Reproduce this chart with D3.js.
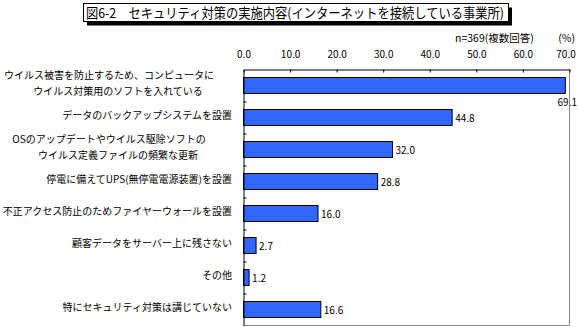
<!DOCTYPE html>
<html><head><meta charset="utf-8">
<script src="https://cdn.jsdelivr.net/npm/d3@7"></script>
<style>body{margin:0;background:#fff}svg{display:block}</style>
</head><body>
<svg id="c" width="578" height="327"></svg>
<script>
const title = "図6-2　セキュリティ対策の実施内容(インターネットを接続している事業所)";
const note = "n=369(複数回答)";
const unit = "(%)";
const categories = [
  ["ウイルス被害を防止するため、コンピュータに", "ウイルス対策用のソフトを入れている"],
  ["データのバックアップシステムを設置"],
  ["OSのアップデートやウイルス駆除ソフトの", "ウイルス定義ファイルの頻繁な更新"],
  ["停電に備えてUPS(無停電電源装置)を設置"],
  ["不正アクセス防止のためファイヤーウォールを設置"],
  ["顧客データをサーバー上に残さない"],
  ["その他"],
  ["特にセキュリティ対策は講じていない"]
];
const values = [69.1, 44.8, 32.0, 28.8, 16.0, 2.7, 1.2, 16.6];
const tickValues = [0, 10, 20, 30, 40, 50, 60, 70];

const W = 578, H = 327;
const font = "'Noto Sans CJK JP', sans-serif";
const svg = d3.select("#c");

// title box with shadow
const tb = {x: 83.5, y: 3.5, w: 425, h: 18};
svg.append("rect").attr("x", tb.x + 3.5).attr("y", tb.y + 4).attr("width", tb.w).attr("height", tb.h).attr("fill", "#000");
svg.append("rect").attr("x", tb.x).attr("y", tb.y).attr("width", tb.w).attr("height", tb.h)
  .attr("fill", "#fff").attr("stroke", "#000").attr("stroke-width", 1);
svg.append("text").attr("x", 86).attr("y", 17.5).attr("font-family", font).attr("font-size", 13.5)
  .attr("textLength", 418).attr("lengthAdjust", "spacingAndGlyphs").text(title);

// note and unit
svg.append("text").attr("x", 455).attr("y", 42).attr("font-family", font).attr("font-size", 10.5).text(note);
svg.append("text").attr("x", 575).attr("y", 42).attr("text-anchor", "end").attr("font-family", font).attr("font-size", 10.5).text(unit);

const x = d3.scaleLinear().domain([0, 70]).range([243.5, 569.5]);
const y = d3.scaleBand().domain(d3.range(values.length)).range([69.5, 325.5]).paddingInner(0.5).paddingOuter(0.25);
const yb = d3.scaleLinear().domain([0, values.length]).range([69.5, 325.5]);

// frame: right and bottom gray
svg.append("line").attr("x1", x(70)).attr("x2", x(70)).attr("y1", 69.5).attr("y2", 325.5).attr("stroke", "#888");
svg.append("line").attr("x1", x(0)).attr("x2", x(70)).attr("y1", 325.5).attr("y2", 325.5).attr("stroke", "#888");

// bars
svg.append("g").selectAll("rect").data(values).join("rect")
  .attr("x", x(0)).attr("y", (d, i) => y(i))
  .attr("width", d => x(d) - x(0)).attr("height", y.bandwidth())
  .attr("fill", "#3366FF").attr("stroke", "#000").attr("stroke-width", 1);

// top axis
const ax = svg.append("g").attr("transform", "translate(0,69.5)")
  .call(d3.axisTop(x).tickValues(tickValues).tickFormat(d3.format(".1f")).tickSizeInner(-3).tickSizeOuter(0).tickPadding(12));
ax.select(".domain").attr("stroke", "#000");
ax.selectAll(".tick line").attr("stroke", "#000");
ax.selectAll("text").attr("font-family", font).attr("font-size", 10).attr("fill", "#000");
ax.selectAll(".tick").filter(d => d === 70).select("text").attr("dx", -4);

// left axis
const ay = svg.append("g").attr("transform", "translate(243.5,0)")
  .call(d3.axisLeft(yb).tickValues(d3.range(1, values.length)).tickFormat("").tickSizeInner(-3).tickSizeOuter(0));
ay.select(".domain").attr("stroke", "#000");
ay.selectAll(".tick line").attr("stroke", "#000");

// value labels
svg.append("g").selectAll("text").data(values).join("text")
  .attr("font-family", font).attr("font-size", 10).attr("fill", "#000")
  .each(function(d, i) {
    const t = d3.select(this).text(d3.format(".1f")(d));
    const end = x(d) + 3 + 19;
    const cy = y(i) + y.bandwidth() / 2;
    if (end > W) {
      t.attr("x", 577).attr("y", cy + 20).attr("text-anchor", "end");
    } else {
      t.attr("x", x(d) + 3).attr("y", cy + 4);
    }
  });

// category labels
const lg = svg.append("g").attr("font-family", font).attr("font-size", 10).attr("fill", "#000");
categories.forEach((lines, i) => {
  const cy = y(i) + y.bandwidth() / 2;
  if (lines.length === 1) {
    lg.append("text").attr("x", 232).attr("y", cy + 1.5).attr("text-anchor", "end").text(lines[0]);
  } else {
    lines.forEach((ln, j) => {
      lg.append("text").attr("x", j === 0 ? 109 : 118).attr("y", cy - 6.5 + j * 16)
        .attr("text-anchor", "middle").text(ln);
    });
  }
});
</script>
</body></html>
